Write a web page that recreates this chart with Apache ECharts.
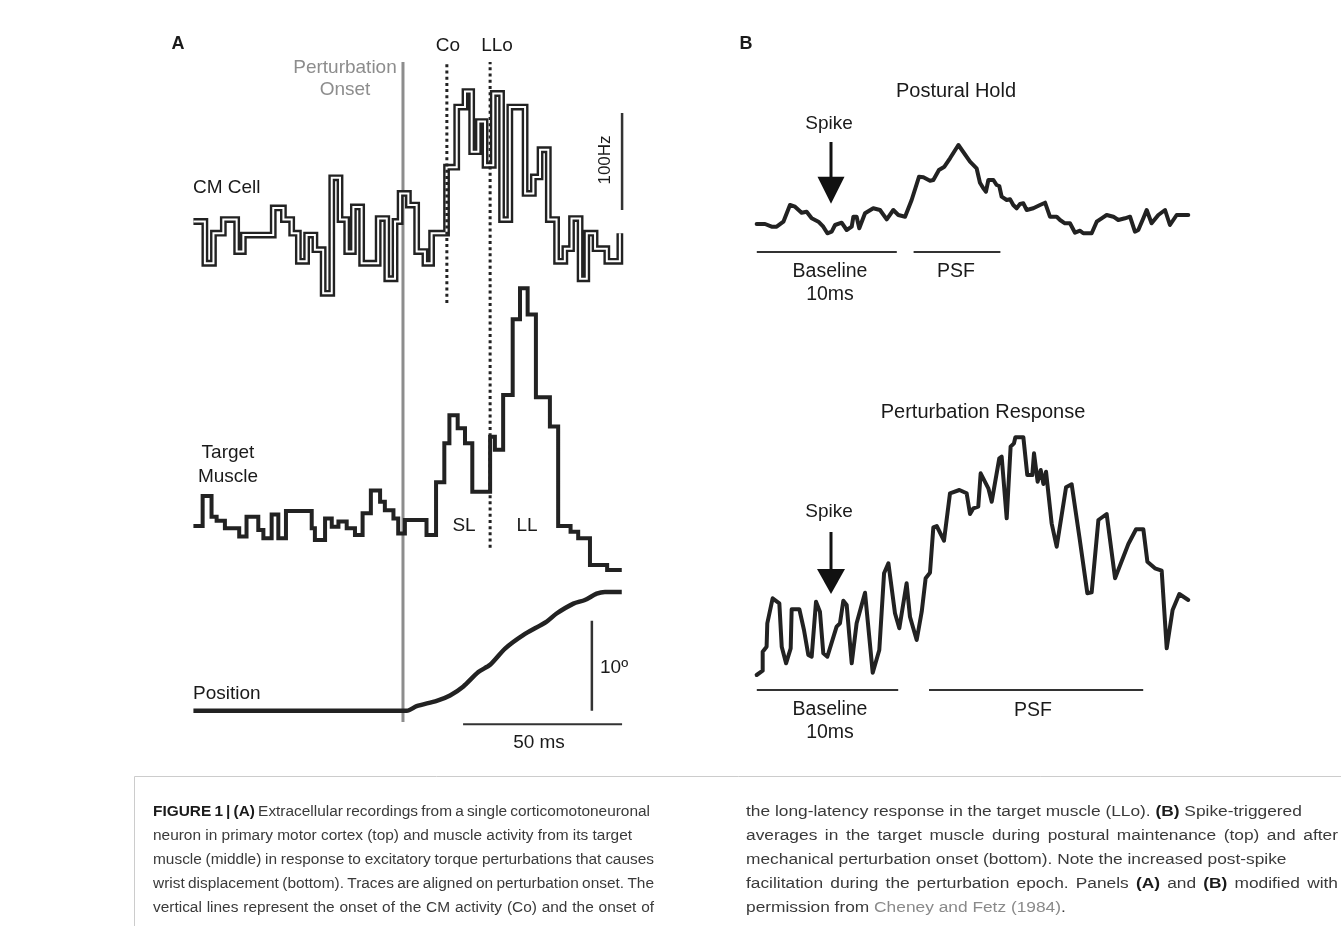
<!DOCTYPE html>
<html><head><meta charset="utf-8">
<script src="https://cdn.jsdelivr.net/npm/echarts@6/dist/echarts.min.js"></script>
<style>html,body{margin:0;padding:0;background:#fff}#c{width:1341px;height:926px}</style>
</head><body><div id="c"></div>
<script>
// ================= DATA =================
// Panel A – CM cell firing-rate histogram (bin start, ms from perturbation onset; rate, Hz)
const cmBinStart = [-65.9,-62.3,-59.6,-56.5,-52.3,-50.2,-40.8,-37.6,-35.0,-32.9,-30.3,-27.7,-25.1,-22.4,-19.8,-17.7,-15.6,-13.0,-7.8,-5.1,-2.5,-0.9,1.7,4.3,6.9,9.0,13.7,16.9,19.5,21.6,23.7,25.8,28.4,31.0,33.6,38.4,41.0,43.1,45.7,48.3,50.9,53.0,55.7,57.8,60.4,64.1,68.2];
const cmRate = [84,41,72,86,53,70,98,86,72,43,70,55,10,129,86,53,99,41,87,25,84,113,101,53,41,72,140,202,218,156,187,142,216,86,202,113,130,158,86,43,56,87,25,72,56,43,72];
// Panel A – target muscle EMG histogram (bin start, ms; level, % of peak)
const emgBinStart = [-65.9,-63.0,-60.2,-58.6,-56.0,-51.5,-49.2,-45.5,-43.9,-41.3,-39.2,-36.8,-28.7,-27.7,-24.5,-22.4,-20.3,-17.7,-15.1,-12.7,-10.1,-7.2,-5.7,-3.0,-1.5,0.6,7.4,10.4,13.0,14.6,17.2,19.5,21.8,27.4,28.9,31.5,34.5,36.8,39.2,41.8,46.2,48.8,52.7,55.1,58.8,64.2,68.8];
const emgLevel = [17.1,27.5,20.3,18.9,16.3,13.4,20.3,15.7,12.8,21.1,12.8,22.3,16.3,12.2,19.7,16.8,18.6,16.3,13.9,21.5,29.4,25.5,22.6,19.7,14.5,19.2,13.9,32.3,45.9,55.7,51.1,45.9,29.0,48.2,43.6,62.7,89.1,99.9,90.8,61.9,51.7,17.1,15.1,12.8,3.5,1.7,1.7];
// Panel A – wrist position (ms; degrees)
const posTime = [-65.9,1.2,4.3,10.6,14.8,19.0,23.7,27.4,32.1,37.8,45.2,48.3,53.6,57.2,60.9,63.5,68.8];
const posDeg = [0,0,0.5,1.1,1.7,2.7,4.3,5.1,6.9,8.4,9.9,10.8,11.9,12.3,13.0,13.2,13.2];
// Panel A – event times (ms)
const eventNames = ['Perturbation onset','Co','LLo'];
const eventTimes = [0, 13.8, 27.4];
// Panel B – spike-triggered averages (ms from spike; amplitude, a.u.)
const holdTime = [-5.31,-4.71,-4.24,-3.88,-3.40,-2.93,-2.57,-2.10,-1.74,-1.38,-0.90,-0.55,-0.26,0.05,0.29,0.76,1.12,1.48,1.60,1.83,2.02,2.43,3.02,3.50,3.98,4.45,4.81,5.29,5.76,6.29,6.60,7.07,7.31,7.71,8.10,8.50,9.10,9.93,10.40,10.64,10.88,11.07,11.24,11.60,11.83,12.02,12.19,12.55,12.79,13.02,13.26,13.50,13.74,13.98,14.45,14.93,15.29,15.64,16.12,16.36,16.71,17.07,17.43,17.79,18.02,18.62,18.98,19.33,19.69,20.17,20.52,21.00,21.36,21.71,21.95,22.31,22.55,22.90,23.38,23.86,24.21,24.69,25.05,25.52];
const holdAmp = [16,16,13.3,13.3,18.3,35,33.3,27.3,28.3,21.7,18.3,13.3,6.7,8.3,15,17.3,10,13.3,23.3,23.3,11.7,26.7,31.7,30,20.7,30,25,23.3,40,63.3,62.7,59.3,60,70,73.3,81.7,95,78.3,71.7,57.3,51.7,48.3,60,60,55,54,43.3,40,40.7,35,31.7,36,36.7,30,31.7,35,37.3,23.3,23.3,20,16.7,16.7,7.3,9.3,6.7,6.7,18.3,21.7,25,23.3,20,21.7,23.3,8.3,10,21.7,30,16.7,25,30,15,25,25,25];
const pertTime = [-5.31,-4.88,-4.88,-4.60,-4.55,-4.17,-3.69,-3.52,-3.21,-2.88,-2.81,-2.26,-1.93,-1.62,-1.38,-1.07,-0.79,-0.55,-0.26,0.40,0.64,0.88,1.12,1.48,1.83,2.43,2.98,3.45,3.79,4.10,4.57,4.88,5.40,5.64,6.12,6.48,6.76,7.07,7.31,7.55,8.07,8.50,9.17,9.69,9.93,10.17,10.52,10.69,11.24,11.48,12.02,12.19,12.55,12.83,13.07,13.17,13.74,14.02,14.38,14.50,14.76,14.98,15.17,15.36,15.76,16.12,16.79,17.19,17.74,18.31,18.62,19.10,19.69,20.29,21.24,21.79,22.31,22.60,23.14,23.62,23.98,24.40,24.88,25.52];
const pertAmp = [15,19.3,38.3,43.3,66.7,91.7,86.7,43.3,26.7,41.7,80.7,80.7,60,35,33.3,88.3,78.3,36.7,33.3,63.3,66.7,89.3,85,26.7,66.7,97.3,17.3,40,116.7,126.7,76.7,61.7,106.7,73.3,50,78.3,111.7,117.3,162.7,164,149.3,196.7,200,196.7,176,181.7,183.3,216.7,201.7,188.3,231.7,233.3,171.7,243.3,246.7,252.7,252.7,215,215,236.7,208.3,220,206,218.3,166.7,143.3,202.7,205.7,153.3,96.7,97.7,170,176,111.7,146,160.7,160.7,128.3,121.7,119.3,41.7,80,96,90];
// Panel B – analysis windows (ms from spike)
const baselineWin = [-5.3, 4.7];
const psfHoldWin = [5.9, 12.1];
const psfPertWin = [7.0, 22.3];
// Scale bars
const rateBar = 100;   // Hz
const degBar = 10;     // degrees
const msBar = 50;      // ms

// Caption text (segments: n = normal, b = bold, l = link)
const captionLeft = [
  [['FIGURE 1 | (A)','b'],[' Extracellular recordings from a single corticomotoneuronal','n']],
  [['neuron in primary motor cortex (top) and muscle activity from its target','n']],
  [['muscle (middle) in response to excitatory torque perturbations that causes','n']],
  [['wrist displacement (bottom). Traces are aligned on perturbation onset. The','n']],
  [['vertical lines represent the onset of the CM activity (Co) and the onset of','n']]
];
const captionRight = [
  [['the long-latency response in the target muscle (LLo). ','n'],['(B)','b'],[' Spike-triggered','n']],
  [['averages in the target muscle during postural maintenance (top) and after','n']],
  [['mechanical perturbation onset (bottom). Note the increased post-spike','n']],
  [['facilitation during the perturbation epoch. Panels ','n'],['(A)','b'],[' and ','n'],['(B)','b'],[' modified with','n']],
  [['permission from ','n'],['Cheney and Fetz (1984)','l'],['.','n']]
];

// ================= LAYOUT =================
const FONT = '"Liberation Sans", Arial, Helvetica, sans-serif';
const INK = '#222222';
const GREY = '#8d8d8d';
const AX = {min:-66, max:69, left:193.1, width:429.3};
const BX = {min:-5.4, max:25.6, left:755.4, width:434};
const zip = (a, b) => a.map((v, i) => [v, b[i]]);

const grids = [
  {left:AX.left, width:AX.width, top:60.5, height:242.5},   // 0 CM cell (0..250 Hz)
  {left:AX.left, width:AX.width, top:273.65, height:301.35},// 1 EMG (0..105)
  {left:AX.left, width:AX.width, top:584.7, height:144},    // 2 position (-2..14 deg)
  {left:AX.left, width:AX.width, top:62, height:660},       // 3 event-line overlay (0..1)
  {left:BX.left, width:BX.width, top:140, height:120},      // 4 postural hold (-20..100)
  {left:BX.left, width:BX.width, top:430, height:270}       // 5 perturbation (-10..260)
];
const yRanges = [[0,250],[0,105],[-2,14],[0,1],[-20,100],[-10,260]];
const xAxes = grids.map((g, i) => ({type:'value', gridIndex:i, show:false,
  min: i < 4 ? AX.min : BX.min, max: i < 4 ? AX.max : BX.max}));
const yAxes = yRanges.map((r, i) => ({type:'value', gridIndex:i, show:false, min:r[0], max:r[1]}));

function ln(g, data, lineStyle, extra) {
  return Object.assign({type:'line', xAxisIndex:g, yAxisIndex:g, data, symbol:'none',
    showSymbol:false, silent:true, clip:false, animation:false, lineStyle}, extra || {});
}

// event line vertical extents within the overlay (fraction of panel height, 1 = top)
const eventLow = [0, 0.635, 0.264];

const series = [
  ln(3, [[eventTimes[0], eventLow[0]], [eventTimes[0], 1]], {color:GREY, width:3, cap:'butt'}, {z:1}),
  ln(0, zip(cmBinStart, cmRate), {color:INK, width:6.8, join:'miter', cap:'butt'}, {step:'end', z:2}),
  ln(0, zip(cmBinStart, cmRate), {color:'#ffffff', width:2, join:'miter', cap:'butt'}, {step:'end', z:3}),
  ln(1, zip(emgBinStart, emgLevel), {color:INK, width:4, join:'miter', cap:'butt'}, {step:'end', z:2}),
  ln(2, zip(posTime, posDeg), {color:INK, width:4.5, join:'round', cap:'butt'}, {smooth:0.25, z:2}),
  ln(3, [[eventTimes[1], eventLow[1]], [eventTimes[1], 1]], {color:INK, width:3, type:[3,3.2], cap:'butt'}, {z:5}),
  ln(3, [[eventTimes[2], eventLow[2]], [eventTimes[2], 1]], {color:INK, width:3, type:[3,3.2], cap:'butt'}, {z:5}),
  ln(0, [[68.9, 96], [68.9, 96 + rateBar]], {color:'#333', width:2.5, cap:'butt'}),
  ln(2, [[59.4, 0], [59.4, degBar]], {color:'#333', width:2.5, cap:'butt'}),
  ln(2, [[68.9 - msBar, -1.5], [68.9, -1.5]], {color:'#333', width:2, cap:'butt'}),
  ln(4, zip(holdTime, holdAmp), {color:INK, width:4, join:'round', cap:'round'}, {z:2}),
  ln(5, zip(pertTime, pertAmp), {color:INK, width:4, join:'round', cap:'round'}, {z:2}),
  ln(4, [[baselineWin[0], -12], [baselineWin[1], -12]], {color:'#333', width:2}),
  ln(4, [[psfHoldWin[0], -12], [psfHoldWin[1], -12]], {color:'#333', width:2}),
  ln(5, [[baselineWin[0], 0], [baselineWin[1] + 0.1, 0]], {color:'#333', width:2}),
  ln(5, [[psfPertWin[0], 0], [psfPertWin[1], 0]], {color:'#333', width:2}),
  ln(4, [[0, 98], [0, 60]], {color:'#111', width:3, cap:'butt'}),
  {type:'scatter', xAxisIndex:4, yAxisIndex:4, data:[[0, 49.7]], symbol:'triangle', symbolRotate:180,
    symbolSize:[27, 27], itemStyle:{color:'#111', opacity:1}, silent:true, z:3, animation:false},
  ln(5, [[0, 158], [0, 117]], {color:'#111', width:3, cap:'butt'}),
  {type:'scatter', xAxisIndex:5, yAxisIndex:5, data:[[0, 108.5]], symbol:'triangle', symbolRotate:180,
    symbolSize:[28, 25], itemStyle:{color:'#111', opacity:1}, silent:true, z:3, animation:false}
];

// ---------- text labels ----------
function txt(text, x, y, opts) {
  opts = opts || {};
  const size = opts.size || 19;
  const weight = opts.bold ? 'bold ' : '';
  return {type:'text', x, y, rotation: opts.rot || 0, silent:true, z:10,
    style:{text, font: weight + size + 'px ' + FONT, fill: opts.color || '#1a1a1a',
      align: opts.align || 'center', textAlign: opts.align || 'center',
      verticalAlign:'middle', textVerticalAlign:'middle'}};
}
const graphics = [
  txt('A', 178, 44, {bold:true, size:18}),
  txt('B', 746, 44, {bold:true, size:18}),
  txt('Co', 448, 46),
  txt('LLo', 497, 46),
  txt('Perturbation', 345, 68, {color:GREY}),
  txt('Onset', 345, 90, {color:GREY}),
  txt('CM Cell', 193, 188, {align:'left'}),
  txt('100Hz', 605, 160, {size:17, rot:Math.PI / 2}),
  txt('Target', 228, 453),
  txt('Muscle', 228, 477),
  txt('SL', 464, 526),
  txt('LL', 527, 526),
  txt('Position', 193, 694, {align:'left'}),
  txt('10º', 600, 668, {align:'left'}),
  txt('50 ms', 539, 743),
  txt('Postural Hold', 956, 91, {size:20}),
  txt('Spike', 829, 124),
  txt('Baseline', 830, 272, {size:19.5}),
  txt('10ms', 830, 295, {size:19.5}),
  txt('PSF', 956, 272, {size:19.5}),
  txt('Perturbation Response', 983, 412, {size:20}),
  txt('Spike', 829, 512),
  txt('Baseline', 830, 710, {size:19.5}),
  txt('10ms', 830, 733, {size:19.5}),
  txt('PSF', 1033, 711, {size:19.5})
];

// ---------- caption ----------
graphics.push({type:'rect', silent:true, z:0, shape:{x:134.5, y:776.5, width:1300, height:300},
  style:{fill:'none', stroke:'#cccccc', lineWidth:1}});
const CAP = 15.5;
const capFill = {n:'#3a3a3a', b:'#1a1a1a', l:'#8a8a8a'};
const capStyles = {};
Object.keys(capFill).forEach(k => capStyles[k] = {fontSize:CAP, fontFamily:FONT,
  fontWeight: k === 'b' ? 'bold' : 'normal', fill:capFill[k]});
const meas = document.createElement('canvas').getContext('2d');
function pieceWidth(p) {
  meas.font = (p[1] === 'b' ? 'bold ' : '') + CAP + 'px ' + FONT;
  return meas.measureText(p[0]).width;
}
function toWords(segs) {
  const words = []; let cur = null;
  segs.forEach(([t, st]) => {
    t.split(' ').forEach((p, j) => {
      if (j > 0) cur = null;
      if (p === '') return;
      if (!cur) { cur = []; words.push(cur); }
      cur.push([p, st]);
    });
  });
  return words;
}
meas.font = CAP + 'px ' + FONT;
const SPACE = meas.measureText(' ').width;
const capLineY = [812, 836, 860, 884, 908];
// column start, line end x, and whether a line is justified
const cols = [
  {lines:captionLeft, x0:153, ends:[650, 632, 654, 654, 654], just:[1,0,1,1,1]},
  {lines:captionRight, x0:746, ends:[1322, 1338, 1292, 1338, 1051], just:[0,1,0,1,0]}
];
cols.forEach(c => {
  // per-column horizontal condensing factor from its ragged (non-justified) lines
  let sSum = 0, sN = 0;
  c.lines.forEach((segs, i) => {
    if (c.just[i]) return;
    const ws = toWords(segs);
    const nat = ws.reduce((s, w) => s + w.reduce((a, p) => a + pieceWidth(p), 0), 0) + SPACE * (ws.length - 1);
    sSum += (c.ends[i] - c.x0) / nat; sN++;
  });
  const S = sSum / sN;
  c.lines.forEach((segs, i) => {
    const ws = toWords(segs);
    const wW = ws.map(w => w.reduce((a, p) => a + pieceWidth(p), 0) * S);
    const total = wW.reduce((a, b) => a + b, 0);
    const gap = c.just[i] ? (c.ends[i] - c.x0 - total) / (ws.length - 1) : SPACE * S;
    let x = c.x0;
    ws.forEach((w, k) => {
      graphics.push({type:'text', x, y:capLineY[i], scaleX:S, scaleY:1, silent:true, z:10,
        style:{text: w.map(p => '{' + p[1] + '|' + p[0] + '}').join(''), rich:capStyles,
          align:'left', textAlign:'left', verticalAlign:'middle', textVerticalAlign:'middle'}});
      x += wW[k] + gap;
    });
  });
});

const chart = echarts.init(document.getElementById('c'), null, {renderer:'canvas'});
chart.setOption({animation:false, backgroundColor:'#ffffff', grid:grids, xAxis:xAxes, yAxis:yAxes,
  series, graphic:graphics});
</script>
</body></html>
